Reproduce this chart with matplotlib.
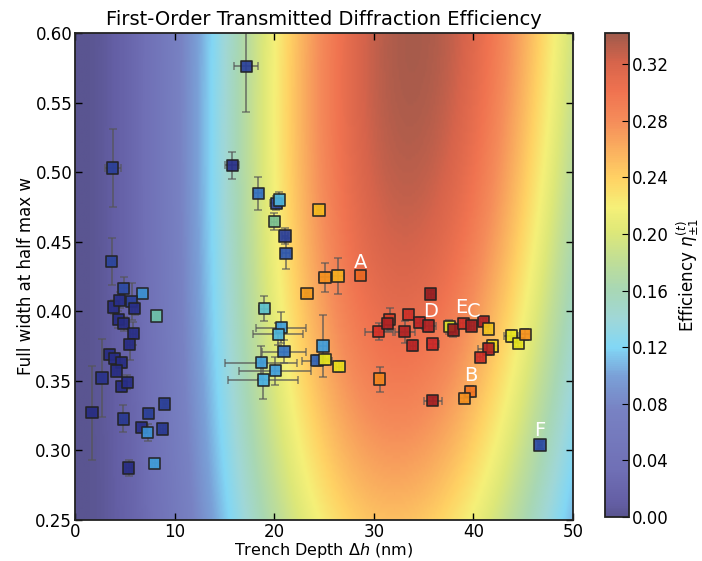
import numpy as np
import matplotlib
matplotlib.use("Agg")
import matplotlib.pyplot as plt
from matplotlib.colors import LinearSegmentedColormap


# measured gratings: trench depth (nm), FWHM w, errors, measured efficiency
dh = [1.7, 2.7, 3.8, 3.7, 4.9, 6.8, 8.2, 3.9, 4.5, 5.7, 6.0, 4.35, 4.9, 5.85, 5.5,
      3.5, 4.0, 4.7, 4.2, 4.7, 5.25, 4.85, 9.0, 7.4, 6.7, 7.3, 8.8, 5.4, 8.0,
      15.8, 17.2, 18.4, 20.2, 20.5, 20.0, 21.1, 21.2, 24.5, 25.1, 26.4, 23.3, 28.7,
      19.0, 20.7, 20.4, 21.0, 18.7, 20.1, 18.9, 24.9, 24.3, 25.1, 26.5,
      35.7, 30.5, 31.6, 31.4, 33.5, 33.1, 34.6, 35.5, 33.9, 35.9, 37.6, 38.0, 39.0,
      39.8, 41.0, 41.5, 41.9, 41.5, 40.7, 43.8, 44.5, 45.2, 30.6, 35.9, 39.7, 39.1, 46.7]
w = [0.327, 0.352, 0.503, 0.436, 0.4165, 0.413, 0.3966, 0.403, 0.408, 0.407, 0.402, 0.394,
     0.391, 0.384, 0.376, 0.369, 0.366, 0.363, 0.357, 0.346, 0.349, 0.3226, 0.3333, 0.3264,
     0.3166, 0.3127, 0.3154, 0.2874, 0.2907,
     0.505, 0.576, 0.4848, 0.4776, 0.480, 0.4644, 0.4541, 0.4417, 0.4728, 0.4244, 0.4254,
     0.4129, 0.4256, 0.4019, 0.3882, 0.3835, 0.371, 0.3631, 0.3573, 0.3506, 0.375, 0.3645,
     0.3655, 0.3602,
     0.4124, 0.3853, 0.3942, 0.391, 0.3978, 0.3853, 0.3918, 0.3894, 0.3753, 0.3765, 0.3889,
     0.3865, 0.3913, 0.3894, 0.3925, 0.3873, 0.375, 0.3729, 0.367, 0.3822, 0.377, 0.3835,
     0.3513, 0.3357, 0.3422, 0.3375, 0.3039]
dh_err = [0.2, 0.2, 0.8, 0.3, 0.5, 0.2, 0.2, 0.3, 0.3, 0.4, 0.3, 0.3, 0.3, 0.3, 0.3,
          0.3, 0.3, 0.3, 0.3, 0.3, 0.4, 0.3, 0.2, 0.2, 0.2, 0.3, 0.3, 0.3, 0.3,
          0.7, 1.2, 0.4, 0.6, 0.5, 0.3, 0.3, 0.4, 0.2, 0.6, 0.6, 0.2, 0.2,
          0.5, 2.5, 2.5, 2.2, 3.6, 3.6, 3.5, 0.4, 1.5, 0.4, 0.3,
          0.3, 1.4, 0.5, 0.4, 0.3, 1.0, 0.5, 0.7, 0.3, 0.6, 0.3, 0.3, 0.3,
          0.3, 0.3, 0.3, 0.5, 1.0, 0.3, 0.7, 0.3, 0.5, 0.2, 0.9, 0.5, 0.5, 0.2]
w_err = [0.034, 0.028, 0.028, 0.017, 0.008, 0.003, 0.003, 0.005, 0.006, 0.013, 0.005, 0.006,
         0.005, 0.008, 0.011, 0.004, 0.004, 0.004, 0.004, 0.004, 0.005, 0.0097, 0.003, 0.003,
         0.003, 0.006, 0.003, 0.006, 0.003,
         0.0096, 0.033, 0.012, 0.005, 0.006, 0.006, 0.006, 0.011, 0.003, 0.0105, 0.0132,
         0.003, 0.003, 0.0092, 0.011, 0.008, 0.008, 0.012, 0.01, 0.014, 0.022, 0.004,
         0.004, 0.004,
         0.003, 0.006, 0.008, 0.005, 0.003, 0.008, 0.004, 0.004, 0.004, 0.003, 0.005,
         0.005, 0.003, 0.003, 0.003, 0.003, 0.004, 0.004, 0.003, 0.004, 0.003, 0.004,
         0.009, 0.003, 0.004, 0.003, 0.003]
eff = [0.03, 0.04, 0.05, 0.055, 0.06, 0.11, 0.155, 0.03, 0.035, 0.05, 0.035, 0.03, 0.03,
       0.035, 0.03, 0.03, 0.03, 0.03, 0.03, 0.03, 0.035, 0.045, 0.05, 0.05, 0.035, 0.11,
       0.045, 0.03, 0.115,
       0.035, 0.05, 0.09, 0.055, 0.13, 0.165, 0.05, 0.07, 0.245, 0.265, 0.25, 0.26, 0.285,
       0.14, 0.115, 0.13, 0.09, 0.115, 0.115, 0.125, 0.115, 0.08, 0.22, 0.225,
       0.335, 0.31, 0.305, 0.325, 0.31, 0.325, 0.32, 0.325, 0.322, 0.315, 0.215, 0.335,
       0.31, 0.33, 0.325, 0.24, 0.23, 0.325, 0.31, 0.22, 0.22, 0.265, 0.27, 0.33, 0.28,
       0.265, 0.06]

labels = ["A", "B", "C", "D", "E", "F"]
label_dh = [28.7, 39.7, 40.0, 35.7, 38.8, 46.7]
label_w = [0.4354, 0.354, 0.3999, 0.3995, 0.4030, 0.3146]

# background model: eta = G(w) * J1(k(w) * dh)^2
k_top, k_bottom = 0.0541, 0.0575
gain_drop = 0.26
vmax = 0.342

bg_colors = [
    (0.00, (90, 85, 145)), (0.03, (100, 95, 165)), (0.10, (112, 112, 182)),
    (0.22, (120, 130, 195)), (0.29, (122, 160, 215)), (0.35, (130, 215, 245)),
    (0.41, (160, 215, 215)), (0.47, (168, 215, 180)), (0.53, (192, 222, 150)),
    (0.59, (222, 232, 120)), (0.64, (245, 240, 120)), (0.70, (255, 210, 100)),
    (0.76, (250, 175, 95)), (0.82, (245, 140, 90)), (0.88, (240, 115, 80)),
    (0.94, (215, 100, 75)), (1.00, (160, 90, 75)),
]
pt_colors = [
    (0.00, (30, 35, 110)), (0.10, (40, 45, 135)), (0.20, (45, 85, 175)),
    (0.30, (55, 130, 205)), (0.36, (70, 175, 230)), (0.43, (100, 200, 195)),
    (0.50, (130, 190, 130)), (0.58, (190, 215, 70)), (0.65, (235, 230, 25)),
    (0.72, (248, 185, 30)), (0.79, (245, 135, 30)), (0.85, (238, 95, 35)),
    (0.92, (205, 40, 40)), (1.00, (135, 25, 30)),
]


def make_cmap(name, stops):
    return LinearSegmentedColormap.from_list(
        name, [(p, tuple(c / 255 for c in rgb)) for p, rgb in stops])


def bessel_j1(x):
    tau = np.linspace(0, np.pi, 400)
    return np.trapezoid(np.cos(tau - x[..., None] * np.sin(tau)), tau, axis=-1) / np.pi


bg_cmap = make_cmap("bg", bg_colors)
pt_cmap = make_cmap("pt", pt_colors)

xs = np.linspace(0, 50, 300)
ys = np.linspace(0.25, 0.60, 160)
X, Y = np.meshgrid(xs, ys)
frac = (0.60 - Y) / 0.35
k = k_top + (k_bottom - k_top) * frac
gain = 1 - gain_drop * frac ** 2
Z = gain * bessel_j1(k * X) ** 2

plt.rcParams["font.family"] = "DejaVu Sans"
plt.rcParams["mathtext.fontset"] = "dejavusans"

fig = plt.figure(figsize=(7.02, 5.61), dpi=100)
ax = fig.add_axes([0.1068, 0.0731, 0.7094, 0.8681])
cax = fig.add_axes([0.8618, 0.0785, 0.0342, 0.8627])

im = ax.imshow(Z, extent=[0, 50, 0.25, 0.60], origin="lower", aspect="auto",
               cmap=bg_cmap, vmin=0, vmax=vmax, interpolation="bilinear", zorder=0)

ax.errorbar(dh, w, xerr=dh_err, yerr=w_err, fmt="none", ecolor="#555555",
            elinewidth=1.4, capsize=3, capthick=1.2, alpha=0.65, zorder=2)
ax.scatter(dh, w, c=eff, cmap=pt_cmap, vmin=0, vmax=vmax, marker="s", s=66,
           edgecolors="#222222", linewidths=1.2, alpha=0.92, zorder=3)

for name, lx, ly in zip(labels, label_dh, label_w):
    ax.text(lx, ly, name, color="white", fontsize=14, ha="center", va="center", zorder=4)

ax.set_xlim(0, 50)
ax.set_ylim(0.25, 0.60)
ax.set_xticks([0, 10, 20, 30, 40, 50])
ax.set_yticks(np.arange(0.25, 0.601, 0.05))
ax.yaxis.set_major_formatter(plt.FormatStrFormatter("%.2f"))
ax.tick_params(direction="in", top=True, right=True, length=5, width=1,
               labelsize=12, pad=2)
for spine in ax.spines.values():
    spine.set_linewidth(1.3)
    spine.set_color("#222222")
ax.set_xlabel(r"Trench Depth $\Delta h$ (nm)", fontsize=11.5, labelpad=0)
ax.set_ylabel("Full width at half max w", fontsize=12, labelpad=0)
ax.set_title("First-Order Transmitted Diffraction Efficiency", fontsize=14)

cb = fig.colorbar(im, cax=cax, ticks=np.arange(0, 0.33, 0.04), format="%.2f")
cb.ax.tick_params(direction="in", length=5, labelsize=12, pad=2)
cb.outline.set_linewidth(1.3)
cb.outline.set_edgecolor("#222222")
cb.set_label(r"Efficiency $\eta^{(t)}_{\pm1}$", fontsize=12, labelpad=4)

fig.savefig("out.png", dpi=100)
